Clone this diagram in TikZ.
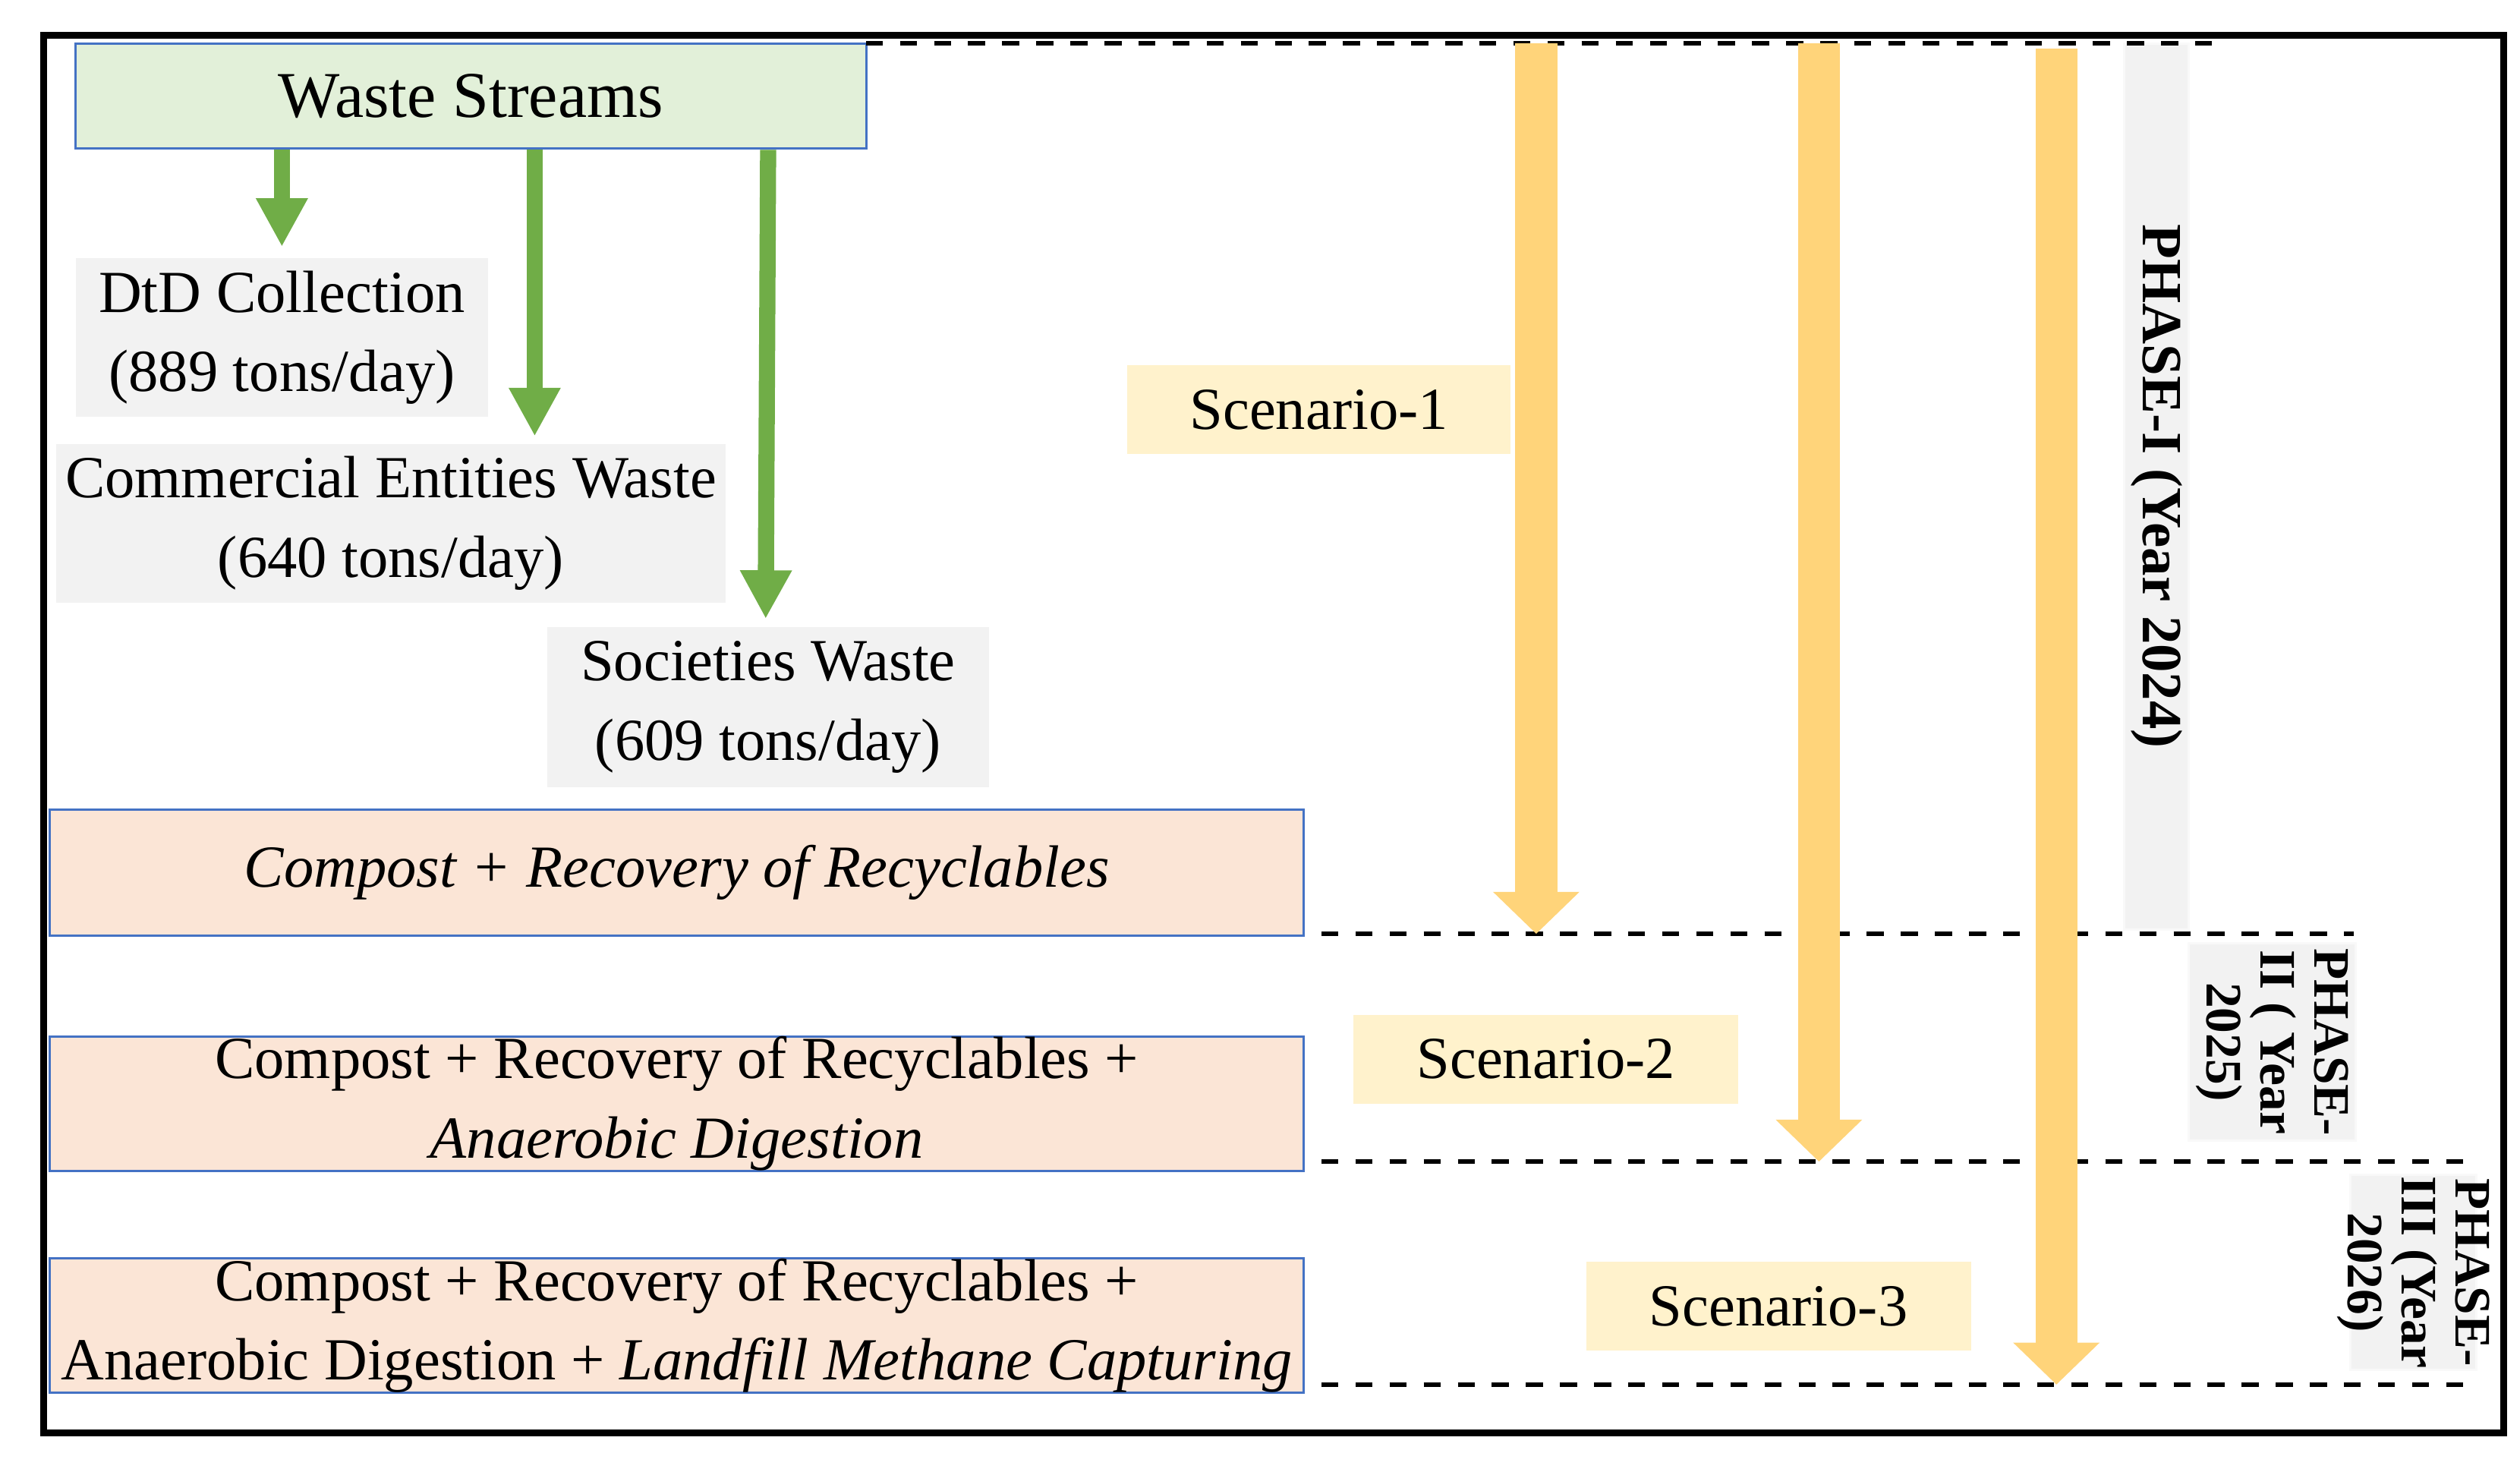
\documentclass[tikz,border=0pt]{standalone}
\usepackage{fontspec}
\setmainfont{Liberation Serif}
\usetikzlibrary{arrows.meta}
\definecolor{wsgreen}{HTML}{E2F0D9}
\definecolor{wsblue}{HTML}{4472C4}
\definecolor{peach}{HTML}{FBE5D6}
\definecolor{lgray}{HTML}{F2F2F2}
\definecolor{lyellow}{HTML}{FFF2CC}
\definecolor{agreen}{HTML}{70AD47}
\definecolor{ayellow}{HTML}{FFD47A}
\tikzset{
  src/.style={fill=lgray,inner sep=0pt,align=center,font=\fontsize{10.5}{14}\selectfont},
  opt/.style={draw=wsblue,fill=peach,inner sep=0pt,align=center,font=\fontsize{10.5}{14}\selectfont},
  scen/.style={fill=lyellow,inner sep=0pt,font=\fontsize{10.5}{14}\selectfont},
  phase/.style={fill=lgray,draw=lgray!80!black!10,inner sep=0pt,align=center,font=\bfseries\fontsize{9}{10}\selectfont},
  garrow/.style={draw=agreen,line width=1mm,-{Triangle[width=3mm,length=3mm]}},
  yarrow/.style={draw=ayellow,line width=2.6mm,-{Triangle[width=5.2mm,length=2.6mm]}},
  sep/.style={dashed,thick}
}
\begin{document}
\begin{tikzpicture}[x=0.01cm,y=-0.01cm]
\useasboundingbox (0,0) rectangle (1560,911);
\draw[line width=1.2pt] (27,22) rectangle (1550,887);

\node[draw=wsblue,fill=wsgreen,minimum width=489\pgflinewidth*0+4.89cm,minimum height=0.65cm,
      font=\fontsize{11.5}{14}\selectfont] (ws) at (291.5,59.5) {Waste Streams};
\node[src,minimum width=2.55cm,minimum height=0.98cm] (dtd) at (174.5,209) {DtD Collection\\(889 tons/day)};
\node[src,minimum width=4.14cm,minimum height=0.98cm] (com) at (242,324) {Commercial Entities Waste\\(640 tons/day)};
\node[src,minimum width=2.73cm,minimum height=0.99cm] (soc) at (475.5,437.5) {Societies Waste\\(609 tons/day)};

\node[opt,minimum width=7.76cm,minimum height=0.78cm] (o1) at (419,540) {\itshape Compost + Recovery of Recyclables};
\node[opt,minimum width=7.76cm,minimum height=0.78cm] (o2) at (419,683) {Compost + Recovery of Recyclables +\\\itshape Anaerobic Digestion};
\node[opt,minimum width=7.76cm,minimum height=0.79cm] (o3) at (419,820.5) {Compost + Recovery of Recyclables +\\Anaerobic Digestion + \itshape Landfill Methane Capturing};

\node[scen,minimum width=2.37cm,minimum height=0.55cm] (s1) at (816.5,253.5) {Scenario-1};
\node[scen,minimum width=2.38cm,minimum height=0.55cm] (s2) at (957,655.5) {Scenario-2};
\node[scen,minimum width=2.38cm,minimum height=0.55cm] (s3) at (1101,808.5) {Scenario-3};

\node[phase,minimum width=0.4cm,minimum height=5.48cm] (p1) at (1335,301) {};
\node[rotate=-90,font=\bfseries\fontsize{10}{12}\selectfont] at (p1.center) {PHASE-I (Year 2024)};
\node[phase,minimum width=1.03cm,minimum height=1.22cm] (p2) at (1406.5,645) {};
\node[rotate=-90,align=center,font=\bfseries\fontsize{9}{9.5}\selectfont] at (p2.center) {PHASE-\\II ( Year\\2025)};
\node[phase,minimum width=0.78cm,minimum height=1.21cm] (p3) at (1494,787.5) {};
\node[rotate=-90,align=center,font=\bfseries\fontsize{9}{9.5}\selectfont] at (p3.center) {PHASE-\\III (Year\\2026)};

% separators
\coordinate (t0) at (536,27);  \coordinate (t1) at (1372,27);
\coordinate (a0) at (818,578); \coordinate (a1) at (1457,578);
\coordinate (b0) at (818,719); \coordinate (b1) at (1533,719);
\coordinate (c0) at (818,857); \coordinate (c1) at (1533,857);
\draw[sep] (t0) -- (t1);
\draw[sep] (a0) -- (a1);
\draw[sep] (b0) -- (b1);
\draw[sep] (c0) -- (c1);

% waste flows
\draw[garrow] (ws.south -| dtd.north) -- ++(0,60);
\draw[garrow] (ws.south -| 331,0) -- (331,270);
\draw[garrow] (ws.south -| soc.north) -- (474,383);

% scenarios
\draw[yarrow] (951,27) -- (a0 -| 951,0);
\draw[yarrow] (1126,27) -- (b0 -| 1126,0);
\draw[yarrow] (1273,30) -- (c0 -| 1273,0);
\end{tikzpicture}
\end{document}
